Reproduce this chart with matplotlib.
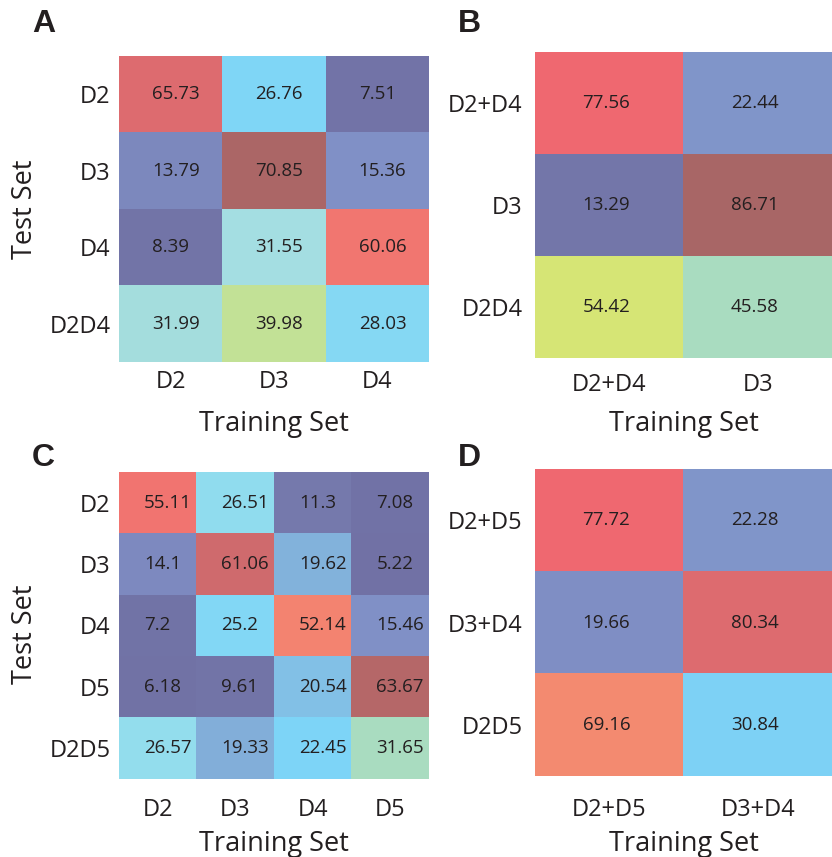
import matplotlib
matplotlib.use("Agg")
import matplotlib.pyplot as plt
from matplotlib.colors import LinearSegmentedColormap, Normalize, TwoSlopeNorm
import numpy as np

# panel A
a_train = ["D2", "D3", "D4"]
a_test = ["D2", "D3", "D4", "D2D4"]
a_vals = [[65.73, 26.76, 7.51],
          [13.79, 70.85, 15.36],
          [8.39, 31.55, 60.06],
          [31.99, 39.98, 28.03]]

# panel B
b_train = ["D2+D4", "D3"]
b_test = ["D2+D4", "D3", "D2D4"]
b_vals = [[77.56, 22.44],
          [13.29, 86.71],
          [54.42, 45.58]]

# panel C
c_train = ["D2", "D3", "D4", "D5"]
c_test = ["D2", "D3", "D4", "D5", "D2D5"]
c_vals = [[55.11, 26.51, 11.3, 7.08],
          [14.1, 61.06, 19.62, 5.22],
          [7.2, 25.2, 52.14, 15.46],
          [6.18, 9.61, 20.54, 63.67],
          [26.57, 19.33, 22.45, 31.65]]

# panel D
d_train = ["D2+D5", "D3+D4"]
d_test = ["D2+D5", "D3+D4", "D2D5"]
d_vals = [[77.72, 22.28],
          [19.66, 80.34],
          [69.16, 30.84]]

# muted jet-like palette
cmap = LinearSegmentedColormap.from_list("muted_jet", [
    (0.00, "#7070a4"),
    (0.13, "#7375a8"),
    (0.20, "#8090c6"),
    (0.225, "#8096ca"),
    (0.255, "#82a8d4"),
    (0.285, "#82c3e8"),
    (0.31, "#7dd4f8"),
    (0.35, "#80d7f6"),
    (0.38, "#96deec"),
    (0.40, "#a4dee2"),
    (0.456, "#aadcc0"),
    (0.544, "#d6e676"),
    (0.69, "#f48c70"),
    (0.776, "#f06870"),
    (0.803, "#de6c70"),
    (0.867, "#a86666"),
    (1.00, "#a06262"),
])

W, H = 832, 857
fig = plt.figure(figsize=(W / 100, H / 100), dpi=100)
plt.rcParams['font.family'] = ['Open Sans', 'DejaVu Sans']
txt = "#231f20"


def panel(box, vals, train, test, norm, letter, letter_xy, ypad, xpad,
          xlab_top, ylabel_y=None):
    l, t, r, b = box
    ax = fig.add_axes([l / W, 1 - b / H, (r - l) / W, (b - t) / H])
    data = np.array(vals)
    ax.imshow(data, cmap=cmap, norm=norm, aspect="auto", interpolation="nearest")
    for i in range(data.shape[0]):
        for j in range(data.shape[1]):
            ax.text(j - 0.18, i, f"{data[i, j]:g}", ha="left", va="center",
                    fontsize=13.5, color=txt)
    ax.set_xticks(range(len(train)))
    ax.set_xticklabels(train, fontsize=17, color=txt)
    ax.set_yticks(range(len(test)))
    ax.set_yticklabels(test, fontsize=17, color=txt)
    ax.tick_params(length=0)
    ax.tick_params(axis="y", pad=ypad)
    ax.tick_params(axis="x", pad=xpad)
    for s in ax.spines.values():
        s.set_visible(False)
    ax.set_xlabel("Training Set", fontsize=19.5, color=txt)
    ax.xaxis.set_label_coords(0.5, -(xlab_top - b) / (b - t))
    if ylabel_y is not None:
        ax.set_ylabel("Test Set", fontsize=19.5, color=txt)
        ax.yaxis.set_label_coords((39 - l) / (r - l), ylabel_y)
    fig.text(letter_xy[0] / W, 1 - letter_xy[1] / H, letter, fontsize=23,
             fontweight="bold", family="Liberation Sans", color=txt,
             ha="left", va="baseline")
    return ax


panel((119, 56, 429, 362), a_vals, a_train, a_test,
      TwoSlopeNorm(vcenter=39.4, vmin=-0.6, vmax=82.7),
      "A", (32, 32), 6, 6, 410, 0.5)
panel((535, 52, 832, 358), b_vals, b_train, b_test, Normalize(0, 100),
      "B", (458, 32), 9, 11, 410)
panel((119, 472, 429, 779), c_vals, c_train, c_test,
      TwoSlopeNorm(vcenter=34.7, vmin=2.0, vmax=76.2),
      "C", (32, 466), 6, 14, 830, 0.47)
panel((535, 469, 832, 776), d_vals, d_train, d_test, Normalize(0, 100),
      "D", (458, 466), 9, 16, 830)

fig.savefig("out.png", dpi=100)
